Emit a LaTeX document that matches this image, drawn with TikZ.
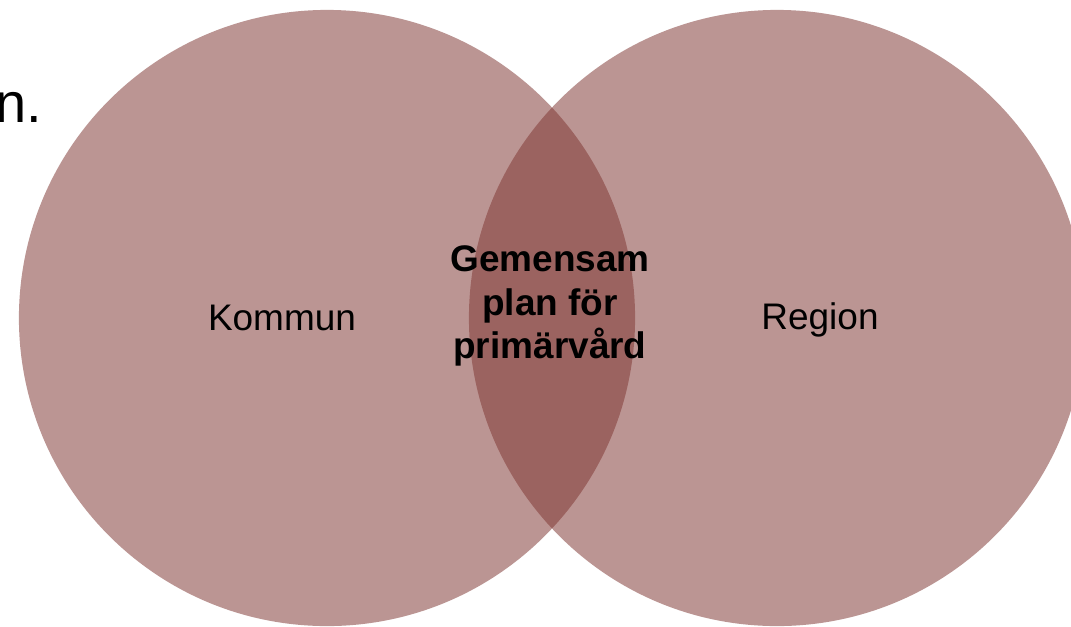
\documentclass[tikz,border=0pt]{standalone}
\usepackage{fontspec}
\setmainfont{Liberation Sans}
\usepackage{tikz}
\usetikzlibrary{positioning}
\definecolor{setrose}{RGB}{127,55,51}
\tikzset{
x=0.025cm,
y=-0.025cm,
set/.style={%
    circle,
    inner sep=0pt,
    minimum size=15.4cm,
    fill=setrose,
    fill opacity=0.53,
    draw=none
},
setname/.style={%
    font=\fontsize{26.3}{30.2}\selectfont,
    text=black
},
common/.style={%
    setname, font=\fontsize{26.3}{31}\selectfont\bfseries,
    align=center
},
}

\begin{document}
\begin{tikzpicture}
	\useasboundingbox (0,0) rectangle (1071,626);
	% cut-off heading at the left edge
	\node[anchor=base west,inner sep=0pt,font=\fontsize{39.8}{44}\selectfont] (heading) at (-5,122) {n.};

	\node[set] (kommun) at (327,318) {};
	\node[set] (region) at (777,318) {};

	\node[setname] (kommunname) at (282,318) {Kommun};
	\node[setname] (regionname) at (820,320) {Region};
	\node[common] (plan) at (550,306) {Gemensam\\plan för\\primärvård};
\end{tikzpicture}
\end{document}
